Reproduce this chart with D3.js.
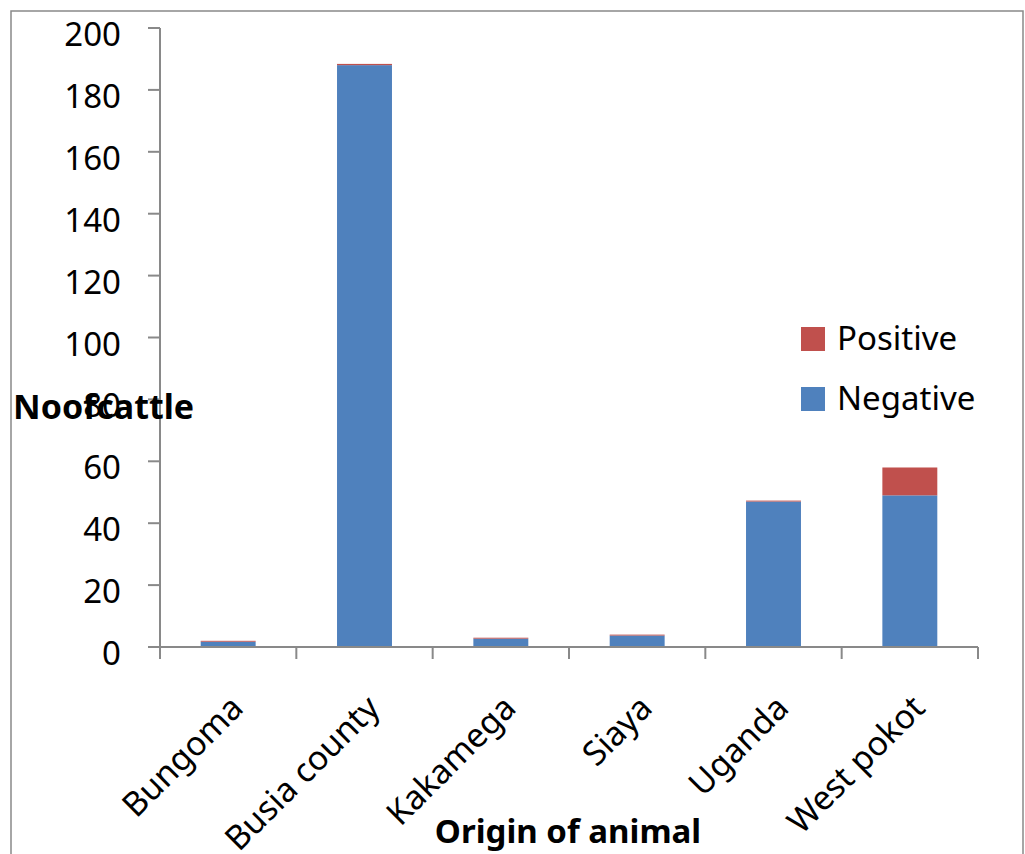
<!DOCTYPE html>
<html>
<head>
<meta charset="utf-8">
<script src="https://cdn.jsdelivr.net/npm/d3@7"></script>
<style>
  html, body { margin: 0; padding: 0; background: #fff; }
  svg { display: block; font-family: "Noto Sans", "Open Sans", sans-serif; }
</style>
</head>
<body>
<svg id="chart" width="1025" height="854"></svg>
<script>
// Origin of sampled cattle and test result counts
const categories = ["Bungoma", "Busia county", "Kakamega", "Siaya", "Uganda", "West pokot"];
const negative = [1.7, 188, 2.7, 3.7, 47, 49];
const positive = [0.3, 0.4, 0.3, 0.3, 0.3, 9];
const seriesNames = ["Negative", "Positive"];
const seriesColors = ["#4F81BD", "#C0504D"];
const yTicks = [0, 20, 40, 60, 80, 100, 120, 140, 160, 180, 200];

const svg = d3.select("#chart");
const axisColor = "#898989";

// outer chart frame
svg.append("rect")
  .attr("x", 11).attr("y", 11)
  .attr("width", 1012).attr("height", 860)
  .attr("fill", "none").attr("stroke", axisColor).attr("stroke-width", 1.5);

const plot = { left: 160, right: 978, top: 28, bottom: 647 };

const x = d3.scaleBand().domain(categories).range([plot.left, plot.right]).padding(0);
const y = d3.scaleLinear().domain([0, 200]).range([plot.bottom, plot.top]);

// stacked data
const rows = categories.map((c, i) => ({ cat: c, Negative: negative[i], Positive: positive[i] }));
const stack = d3.stack().keys(seriesNames)(rows);

const barW = x.bandwidth() * 0.403;
svg.append("g").selectAll("g")
  .data(stack)
  .join("g")
  .attr("fill", (d, i) => seriesColors[i])
  .selectAll("rect")
  .data(d => d)
  .join("rect")
  .attr("x", d => x(d.data.cat) + (x.bandwidth() - barW) / 2)
  .attr("width", barW)
  .attr("y", d => y(d[1]))
  .attr("height", d => y(d[0]) - y(d[1]));

// y axis
const yAxis = svg.append("g");
yAxis.append("line")
  .attr("x1", plot.left).attr("x2", plot.left)
  .attr("y1", y(200)).attr("y2", y(0))
  .attr("stroke", axisColor).attr("stroke-width", 2);
yAxis.selectAll("line.tick")
  .data(yTicks)
  .join("line")
  .attr("class", "tick")
  .attr("x1", plot.left - 12).attr("x2", plot.left)
  .attr("y1", d => y(d)).attr("y2", d => y(d))
  .attr("stroke", axisColor).attr("stroke-width", 2);
yAxis.selectAll("text")
  .data(yTicks)
  .join("text")
  .attr("x", 121)
  .attr("y", d => y(d) + 18)
  .attr("text-anchor", "end")
  .attr("font-size", 33)
  .attr("fill", "#000")
  .text(d => d);

// x axis
const xAxis = svg.append("g");
xAxis.append("line")
  .attr("x1", plot.left - 12).attr("x2", plot.right)
  .attr("y1", plot.bottom).attr("y2", plot.bottom)
  .attr("stroke", axisColor).attr("stroke-width", 2);
const bounds = categories.map(c => x(c)).concat([plot.right]);
xAxis.selectAll("line.tick")
  .data(bounds)
  .join("line")
  .attr("class", "tick")
  .attr("x1", d => d).attr("x2", d => d)
  .attr("y1", plot.bottom).attr("y2", plot.bottom + 12)
  .attr("stroke", axisColor).attr("stroke-width", 2);
xAxis.selectAll("text")
  .data(categories)
  .join("text")
  .attr("transform", d => `translate(${x(d) + x.bandwidth() / 2 + 17},${plot.bottom + 63}) rotate(-45)`)
  .attr("text-anchor", "end")
  .attr("font-size", 33.5)
  .attr("fill", "#000")
  .text(d => d);

// axis titles
svg.append("text")
  .attr("x", 568).attr("y", 843)
  .attr("text-anchor", "middle")
  .attr("font-size", 33).attr("font-weight", "bold")
  .attr("fill", "#000")
  .text("Origin of animal");
svg.append("text")
  .attr("x", 13).attr("y", 419)
  .attr("font-size", 34).attr("font-weight", "bold")
  .attr("fill", "#000")
  .text("Noofcattle");

// legend (Positive on top)
const legendItems = [
  { name: "Positive", color: seriesColors[1] },
  { name: "Negative", color: seriesColors[0] }
];
const legend = svg.append("g").selectAll("g")
  .data(legendItems)
  .join("g")
  .attr("transform", (d, i) => `translate(801,${327 + i * 60})`);
legend.append("rect")
  .attr("width", 24).attr("height", 24)
  .attr("fill", d => d.color);
legend.append("text")
  .attr("x", 36).attr("y", 23)
  .attr("font-size", 33)
  .attr("fill", "#000")
  .text(d => d.name);
</script>
</body>
</html>
